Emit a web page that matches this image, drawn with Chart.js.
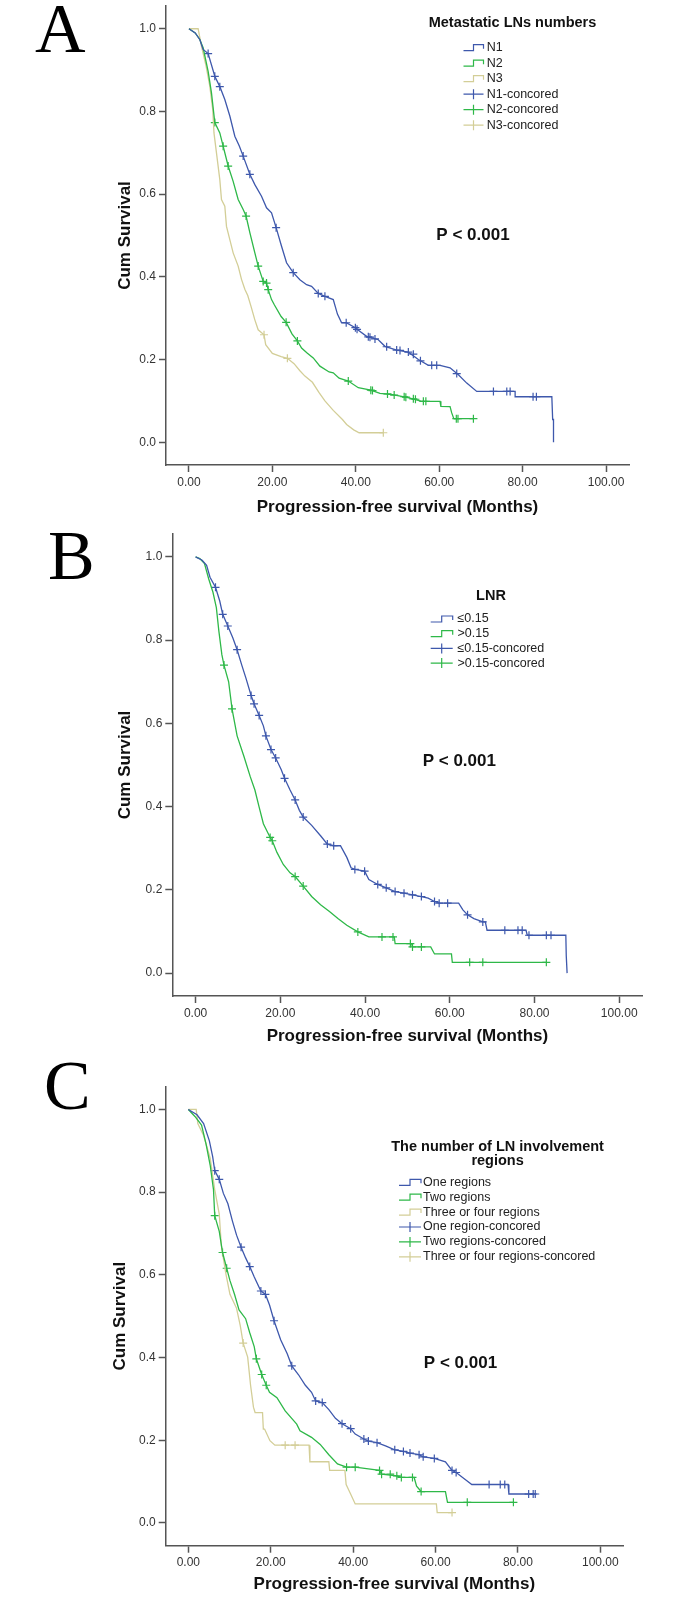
<!DOCTYPE html>
<html>
<head>
<meta charset="utf-8">
<script src="https://cdn.jsdelivr.net/npm/chart.js@4.4.1/dist/chart.umd.min.js"></script>
<style>
  html, body { margin: 0; padding: 0; background: #fff; }
  #page { position: relative; width: 687px; height: 1599px; }
  canvas { position: absolute; left: 0; }
</style>
</head>
<body>
<div id="page">
  <canvas id="panelA" width="687" height="520" style="top:0;width:687px;height:520px"></canvas>
  <canvas id="panelB" width="687" height="530" style="top:520px;width:687px;height:530px"></canvas>
  <canvas id="panelC" width="687" height="549" style="top:1050px;width:687px;height:549px"></canvas>
</div>
<script>
// ---- axis ticks (shared by all three panels) ----
const xTickValues = [0, 20, 40, 60, 80, 100];
const yTickValues = [0, 0.2, 0.4, 0.6, 0.8, 1.0];

// ---- Panel A: metastatic LN numbers ----
const aLabels = ['N1', 'N2', 'N3'];
const aCensLabels = ['N1-concored', 'N2-concored', 'N3-concored'];

const aN1Time = [0, 1.5, 2.6, 3.4, 4.6, 6.2, 7.4, 8.6, 9.8, 11.0, 12.1, 13.0, 14.6, 15.8, 17.4, 18.6, 19.8, 20.9, 22.2, 23.4, 25.0, 26.6, 28.2, 29.4, 31.0, 32.6, 34.6, 35.6, 36.6, 37.7, 39.9, 40.3, 42.6, 45.4, 47.0, 49.8, 52.6, 55.0, 57.4, 60.2, 62.6, 64.6, 66.6, 69.0, 78.2, 78.2, 87.0, 87.2, 87.4, 87.4];
const aN1Surv = [1.0, 0.99, 0.974, 0.95, 0.94, 0.885, 0.86, 0.829, 0.789, 0.74, 0.716, 0.692, 0.648, 0.623, 0.595, 0.567, 0.555, 0.519, 0.474, 0.434, 0.41, 0.393, 0.381, 0.377, 0.36, 0.353, 0.345, 0.31, 0.289, 0.289, 0.277, 0.273, 0.256, 0.248, 0.232, 0.223, 0.218, 0.20, 0.186, 0.186, 0.18, 0.163, 0.143, 0.123, 0.123, 0.11, 0.11, 0.055, 0.055, 0.0];
const aN1CensTime = [4.6, 6.2, 7.4, 13.0, 14.6, 20.9, 25.0, 31.0, 32.6, 37.7, 39.9, 40.3, 43.0, 43.4, 44.6, 47.4, 49.8, 50.6, 52.6, 53.8, 55.5, 58.2, 59.4, 64.2, 73.0, 76.2, 77.0, 82.5, 83.3];
const aN1CensSurv = [0.94, 0.885, 0.86, 0.692, 0.648, 0.519, 0.41, 0.36, 0.353, 0.289, 0.277, 0.273, 0.255, 0.254, 0.25, 0.231, 0.223, 0.222, 0.218, 0.213, 0.197, 0.186, 0.186, 0.166, 0.123, 0.123, 0.123, 0.11, 0.11];

const aN2Time = [0, 1.5, 2.6, 3.4, 4.6, 5.4, 6.2, 7.4, 8.2, 9.4, 10.6, 11.8, 13.0, 13.7, 14.6, 15.8, 16.6, 17.8, 18.6, 19.0, 19.8, 20.5, 22.1, 23.3, 24.7, 26.0, 27.0, 28.4, 29.8, 31.4, 33.6, 34.6, 36.0, 38.2, 40.6, 43.6, 45.8, 48.8, 51.6, 53.0, 55.8, 60.2, 60.4, 62.6, 63.0, 63.5, 68.2];
const aN2Surv = [1.0, 0.99, 0.974, 0.954, 0.897, 0.845, 0.773, 0.748, 0.716, 0.668, 0.631, 0.587, 0.563, 0.547, 0.507, 0.458, 0.426, 0.389, 0.385, 0.369, 0.345, 0.332, 0.304, 0.29, 0.262, 0.245, 0.228, 0.215, 0.204, 0.184, 0.17, 0.168, 0.155, 0.148, 0.132, 0.126, 0.118, 0.115, 0.11, 0.107, 0.099, 0.099, 0.087, 0.086, 0.071, 0.057, 0.057];
const aN2CensTime = [6.2, 8.2, 9.4, 13.7, 16.6, 17.8, 18.6, 19.0, 23.3, 26.0, 38.2, 43.6, 44.0, 47.6, 49.2, 51.6, 52.0, 53.8, 54.3, 56.2, 56.8, 64.1, 64.5, 68.2];
const aN2CensSurv = [0.773, 0.716, 0.668, 0.547, 0.426, 0.389, 0.385, 0.369, 0.29, 0.245, 0.148, 0.126, 0.125, 0.117, 0.114, 0.11, 0.109, 0.105, 0.104, 0.099, 0.099, 0.057, 0.057, 0.057];

const aN3Time = [0, 2.2, 3.0, 4.1, 5.0, 5.7, 6.0, 6.6, 7.4, 7.8, 8.6, 9.0, 9.8, 10.6, 11.8, 12.6, 13.4, 14.1, 14.9, 15.8, 16.6, 18.0, 18.4, 20.0, 22.1, 23.6, 25.2, 26.6, 27.8, 29.6, 31.2, 32.6, 34.6, 36.8, 37.8, 39.5, 40.8, 46.6];
const aN3Surv = [1.0, 1.0, 0.958, 0.91, 0.861, 0.805, 0.748, 0.70, 0.635, 0.587, 0.571, 0.522, 0.49, 0.458, 0.426, 0.394, 0.37, 0.355, 0.328, 0.296, 0.272, 0.26, 0.236, 0.215, 0.207, 0.203, 0.19, 0.173, 0.16, 0.145, 0.12, 0.10, 0.077, 0.055, 0.043, 0.03, 0.023, 0.023];
const aN3CensTime = [18.0, 23.6, 46.6];
const aN3CensSurv = [0.26, 0.203, 0.023];

// ---- Panel B: LNR ----
const bLabels = ['\u22640.15', '>0.15'];
const bCensLabels = ['\u22640.15-concored', '>0.15-concored'];

const bLowTime = [0, 1.55, 2.6, 3.4, 4.7, 5.7, 6.4, 7.6, 8.8, 9.8, 10.9, 11.9, 13.1, 13.8, 15.0, 16.0, 16.6, 17.8, 18.9, 20.2, 21.0, 22.3, 23.5, 24.5, 25.4, 27.4, 29.5, 31.1, 32.6, 34.2, 35.7, 36.7, 37.6, 39.9, 40.9, 43.0, 45.0, 47.1, 49.2, 51.2, 53.3, 54.9, 56.4, 57.5, 62.1, 63.1, 64.2, 65.7, 67.8, 68.4, 68.8, 78.0, 78.3, 87.4, 87.5, 87.7];
const bLowSurv = [1.0, 0.992, 0.98, 0.951, 0.927, 0.894, 0.862, 0.834, 0.805, 0.777, 0.74, 0.708, 0.667, 0.647, 0.619, 0.594, 0.57, 0.537, 0.517, 0.489, 0.468, 0.44, 0.416, 0.391, 0.375, 0.355, 0.33, 0.31, 0.306, 0.306, 0.278, 0.253, 0.249, 0.245, 0.225, 0.213, 0.205, 0.196, 0.192, 0.188, 0.184, 0.18, 0.172, 0.168, 0.168, 0.152, 0.14, 0.131, 0.123, 0.123, 0.103, 0.103, 0.091, 0.091, 0.042, 0.0];
const bLowCensTime = [4.7, 6.4, 7.6, 9.8, 13.1, 13.8, 15.0, 16.6, 17.8, 18.9, 21.0, 23.5, 25.4, 31.1, 32.6, 37.6, 39.9, 43.0, 45.0, 47.1, 49.2, 51.2, 53.3, 56.4, 57.5, 59.5, 64.2, 67.8, 73.0, 76.1, 77.1, 78.7, 82.8, 83.9];
const bLowCensSurv = [0.927, 0.862, 0.834, 0.777, 0.667, 0.647, 0.619, 0.57, 0.537, 0.517, 0.468, 0.416, 0.375, 0.31, 0.306, 0.249, 0.245, 0.213, 0.205, 0.196, 0.192, 0.188, 0.184, 0.172, 0.168, 0.168, 0.14, 0.123, 0.103, 0.103, 0.103, 0.091, 0.091, 0.091];

const bHighTime = [0, 1.0, 2.1, 3.1, 4.1, 4.9, 5.5, 6.2, 6.7, 7.8, 8.6, 9.8, 11.4, 12.9, 14.0, 15.0, 16.0, 17.6, 18.1, 19.2, 20.7, 22.3, 23.5, 25.4, 27.4, 29.5, 31.6, 33.6, 35.7, 38.3, 40.9, 46.9, 47.1, 51.0, 51.2, 55.5, 56.4, 60.4, 60.6, 82.8];
const bHighSurv = [1.0, 0.996, 0.984, 0.947, 0.915, 0.878, 0.821, 0.765, 0.74, 0.70, 0.635, 0.57, 0.521, 0.472, 0.44, 0.399, 0.359, 0.326, 0.318, 0.29, 0.261, 0.241, 0.232, 0.209, 0.184, 0.164, 0.148, 0.131, 0.115, 0.099, 0.087, 0.087, 0.071, 0.071, 0.063, 0.063, 0.046, 0.046, 0.026, 0.026];
const bHighCensTime = [6.7, 8.6, 17.6, 18.1, 23.5, 25.4, 38.3, 44.0, 46.6, 50.7, 51.2, 53.3, 64.7, 67.8, 82.8];
const bHighCensSurv = [0.74, 0.635, 0.326, 0.318, 0.232, 0.209, 0.099, 0.087, 0.087, 0.071, 0.063, 0.063, 0.026, 0.026, 0.026];

// ---- Panel C: number of LN involvement regions ----
const cLabels = ['One regions', 'Two regions', 'Three or four regions'];
const cCensLabels = ['One region-concored', 'Two regions-concored', 'Three or four regions-concored'];

const cOneTime = [0, 2.1, 3.7, 5.1, 5.9, 6.4, 7.5, 8.5, 9.6, 10.7, 11.7, 12.8, 13.9, 14.9, 16.0, 17.6, 18.7, 19.7, 20.8, 22.4, 24.0, 25.1, 26.7, 28.4, 29.9, 30.9, 32.5, 34.1, 35.7, 37.3, 39.4, 40.5, 42.6, 43.7, 45.8, 48.0, 50.1, 52.2, 53.8, 56.0, 57.0, 59.7, 62.4, 64.0, 65.0, 67.2, 68.8, 77.6, 77.8, 84.2];
const cOneSurv = [1.0, 0.987, 0.966, 0.924, 0.886, 0.852, 0.831, 0.797, 0.772, 0.73, 0.696, 0.667, 0.641, 0.62, 0.595, 0.561, 0.553, 0.527, 0.489, 0.443, 0.409, 0.38, 0.359, 0.333, 0.316, 0.295, 0.291, 0.274, 0.253, 0.24, 0.228, 0.215, 0.203, 0.198, 0.194, 0.186, 0.177, 0.173, 0.169, 0.165, 0.16, 0.156, 0.148, 0.127, 0.122, 0.105, 0.093, 0.093, 0.07, 0.07];
const cOneCensTime = [6.4, 7.5, 12.8, 14.9, 17.6, 18.7, 20.8, 25.1, 30.9, 32.5, 37.3, 39.4, 42.6, 43.7, 45.8, 50.1, 52.2, 53.8, 56.0, 57.0, 59.7, 64.0, 65.0, 73.0, 75.7, 76.8, 82.6, 83.7, 84.2];
const cOneCensSurv = [0.852, 0.831, 0.667, 0.62, 0.561, 0.553, 0.489, 0.38, 0.295, 0.291, 0.24, 0.228, 0.203, 0.198, 0.194, 0.177, 0.173, 0.169, 0.165, 0.16, 0.156, 0.127, 0.122, 0.093, 0.093, 0.093, 0.07, 0.07, 0.07];

const cTwoTime = [0, 1.6, 3.2, 4.3, 5.3, 6.1, 6.4, 7.5, 8.3, 9.3, 10.1, 11.2, 12.3, 13.9, 14.9, 16.0, 16.5, 17.8, 18.9, 19.7, 21.5, 23.5, 26.3, 27.1, 29.9, 32.0, 34.1, 36.2, 38.4, 40.5, 43.7, 46.4, 46.9, 50.6, 51.7, 54.8, 55.4, 56.5, 62.4, 62.9, 78.9];
const cTwoSurv = [1.0, 0.983, 0.962, 0.916, 0.865, 0.806, 0.743, 0.705, 0.654, 0.616, 0.586, 0.553, 0.515, 0.494, 0.46, 0.426, 0.397, 0.359, 0.333, 0.316, 0.303, 0.271, 0.239, 0.223, 0.207, 0.19, 0.165, 0.143, 0.135, 0.135, 0.131, 0.127, 0.118, 0.114, 0.11, 0.11, 0.089, 0.076, 0.076, 0.05, 0.05];
const cTwoCensTime = [6.4, 8.3, 9.3, 16.5, 17.8, 18.9, 38.4, 40.5, 46.4, 46.9, 49.0, 50.6, 51.7, 54.4, 56.5, 67.7, 78.9];
const cTwoCensSurv = [0.743, 0.654, 0.616, 0.397, 0.359, 0.333, 0.135, 0.135, 0.127, 0.118, 0.118, 0.114, 0.11, 0.11, 0.076, 0.05, 0.05];

const cThreeTime = [0, 1.9, 2.3, 3.7, 5.3, 6.4, 7.5, 8.0, 9.1, 10.1, 11.7, 12.6, 13.3, 14.4, 15.1, 15.8, 16.2, 18.0, 18.2, 18.5, 19.8, 21.0, 29.3, 29.5, 34.1, 34.3, 38.0, 38.3, 39.3, 40.5, 60.2, 60.4, 64.0];
const cThreeSurv = [1.0, 1.0, 0.966, 0.937, 0.882, 0.806, 0.747, 0.671, 0.603, 0.553, 0.519, 0.477, 0.435, 0.401, 0.333, 0.28, 0.267, 0.267, 0.227, 0.227, 0.199, 0.188, 0.188, 0.148, 0.148, 0.127, 0.127, 0.093, 0.072, 0.046, 0.046, 0.025, 0.025];
const cThreeCensTime = [13.3, 23.5, 25.9, 64.0];
const cThreeCensSurv = [0.435, 0.188, 0.188, 0.025];

// ---- styling ----
const seriesColors = ['#3E58AC', '#2EB848', '#D3CE97'];
const sansFont = '"Liberation Sans", Arial, "DejaVu Sans", sans-serif';
const serifFont = '"Liberation Serif", "Times New Roman", serif';
const PAD_LEFT = 100;

function toPoints(times, surv) {
  return times.map((t, i) => ({ x: t, y: surv[i] }));
}

function kmDatasets(groups) {
  const lines = groups.map((g, i) => ({
    label: g.label,
    data: toPoints(g.time, g.surv),
    showLine: true,
    borderColor: seriesColors[i],
    backgroundColor: seriesColors[i],
    borderWidth: 1.3,
    pointRadius: 0,
    tension: 0,
    kind: 'line'
  }));
  const cens = groups.map((g, i) => ({
    label: g.censLabel,
    data: toPoints(g.censTime, g.censSurv),
    showLine: false,
    pointStyle: 'cross',
    pointRadius: 4,
    pointBorderWidth: 1.2,
    borderColor: seriesColors[i],
    backgroundColor: seriesColors[i],
    kind: 'cens'
  }));
  return lines.concat(cens);
}

// letter, p-value and SPSS-style legend drawn on top of each panel
const kmDecor = {
  id: 'kmDecor',
  afterDraw(chart, args, o) {
    const ctx = chart.ctx;
    ctx.save();
    ctx.fillStyle = '#000';
    ctx.font = '70px ' + serifFont;
    ctx.textAlign = 'left';
    ctx.textBaseline = 'alphabetic';
    ctx.fillText(o.letter, o.letterX, o.letterY);

    ctx.font = 'bold 17px ' + sansFont;
    ctx.textAlign = 'center';
    ctx.textBaseline = 'middle';
    ctx.fillStyle = '#111';
    ctx.fillText(o.pText, o.pX, o.pY);

    ctx.font = 'bold 14.5px ' + sansFont;
    o.titleLines.forEach((t, i) => ctx.fillText(t, o.titleX, o.titleY + i * 14));

    ctx.font = '12.5px ' + sansFont;
    ctx.textAlign = 'left';
    chart.data.datasets.forEach((ds, i) => {
      const y = o.itemY + i * o.itemStep;
      const x0 = o.symX, w = o.symW;
      ctx.strokeStyle = ds.borderColor;
      ctx.lineWidth = 1.2;
      ctx.beginPath();
      if (ds.kind === 'line') {
        ctx.moveTo(x0, y + 3);
        ctx.lineTo(x0 + w * 0.5, y + 3);
        ctx.lineTo(x0 + w * 0.5, y - 3);
        ctx.lineTo(x0 + w, y - 3);
        ctx.lineTo(x0 + w, y + 1);
      } else {
        ctx.moveTo(x0, y);
        ctx.lineTo(x0 + w, y);
        ctx.moveTo(x0 + w * 0.5, y - 5);
        ctx.lineTo(x0 + w * 0.5, y + 5);
      }
      ctx.stroke();
      ctx.fillStyle = '#222';
      ctx.fillText(ds.label, o.textX, y);
    });
    ctx.restore();
  }
};

function buildPanel(id, spec) {
  const canvas = document.getElementById(id);
  const H = canvas.height;
  return new Chart(canvas, {
    type: 'scatter',
    data: { datasets: spec.datasets },
    options: {
      responsive: false,
      animation: false,
      events: [],
      layout: { padding: { left: PAD_LEFT, right: 687 - spec.right, top: spec.top, bottom: 0 } },
      plugins: {
        legend: { display: false },
        tooltip: { enabled: false },
        kmDecor: spec.decor
      },
      scales: {
        x: {
          type: 'linear',
          min: -5.5,
          max: 105.5,
          afterBuildTicks: s => { s.ticks = xTickValues.map(v => ({ value: v })); },
          afterFit: s => { s.height = H - spec.bottom; s.paddingLeft = 0; s.paddingRight = 0; },
          ticks: {
            callback: v => Number(v).toFixed(2),
            color: '#333',
            font: { family: sansFont, size: 12 },
            padding: 3,
            maxRotation: 0,
            autoSkip: false
          },
          grid: { drawOnChartArea: false, drawTicks: true, tickLength: 7, tickColor: '#555', tickWidth: 1.5 },
          border: { display: true, color: '#555', width: 1.5 },
          title: {
            display: true,
            text: 'Progression-free survival (Months)',
            color: '#111',
            font: { family: sansFont, size: 17, weight: 'bold' },
            padding: { top: 0, bottom: H - 10.2 - spec.xTitleY }
          }
        },
        y: {
          type: 'linear',
          min: -0.055,
          max: 1.055,
          afterBuildTicks: s => { s.ticks = yTickValues.map(v => ({ value: v })); },
          afterFit: s => { s.width = spec.left - PAD_LEFT; s.paddingTop = 0; s.paddingBottom = 0; },
          ticks: {
            callback: v => Number(v).toFixed(1),
            color: '#333',
            font: { family: sansFont, size: 12 },
            padding: 3,
            autoSkip: false
          },
          grid: { drawOnChartArea: false, drawTicks: true, tickLength: 7, tickColor: '#555', tickWidth: 1.5 },
          border: { display: true, color: '#555', width: 1.5 },
          title: {
            display: true,
            text: 'Cum Survival',
            color: '#111',
            font: { family: sansFont, size: 17, weight: 'bold' },
            padding: { top: spec.yTitleX - PAD_LEFT - 10.2, bottom: 0 }
          }
        }
      }
    },
    plugins: [kmDecor]
  });
}

buildPanel('panelA', {
  left: 166, right: 629, top: 6, bottom: 465, xTitleY: 507, yTitleX: 125,
  datasets: kmDatasets([
    { label: aLabels[0], censLabel: aCensLabels[0], time: aN1Time, surv: aN1Surv, censTime: aN1CensTime, censSurv: aN1CensSurv },
    { label: aLabels[1], censLabel: aCensLabels[1], time: aN2Time, surv: aN2Surv, censTime: aN2CensTime, censSurv: aN2CensSurv },
    { label: aLabels[2], censLabel: aCensLabels[2], time: aN3Time, surv: aN3Surv, censTime: aN3CensTime, censSurv: aN3CensSurv }
  ]),
  decor: {
    letter: 'A', letterX: 35, letterY: 51.5,
    pText: 'P < 0.001', pX: 473, pY: 235,
    titleLines: ['Metastatic LNs numbers'], titleX: 512.5, titleY: 23.3,
    itemY: 47.7, itemStep: 15.5, symX: 463.5, symW: 20, textX: 486.8
  }
});

buildPanel('panelB', {
  left: 172.3, right: 642.5, top: 14, bottom: 476, xTitleY: 516.7, yTitleX: 125,
  datasets: kmDatasets([
    { label: bLabels[0], censLabel: bCensLabels[0], time: bLowTime, surv: bLowSurv, censTime: bLowCensTime, censSurv: bLowCensSurv },
    { label: bLabels[1], censLabel: bCensLabels[1], time: bHighTime, surv: bHighSurv, censTime: bHighCensTime, censSurv: bHighCensSurv }
  ]),
  decor: {
    letter: 'B', letterX: 48, letterY: 59,
    pText: 'P < 0.001', pX: 459.3, pY: 241.7,
    titleLines: ['LNR'], titleX: 491, titleY: 76.3,
    itemY: 99, itemStep: 14.7, symX: 430.7, symW: 22, textX: 457.5
  }
});

buildPanel('panelC', {
  left: 165.7, right: 623, top: 36.7, bottom: 495.7, xTitleY: 534.7, yTitleX: 120.6,
  datasets: kmDatasets([
    { label: cLabels[0], censLabel: cCensLabels[0], time: cOneTime, surv: cOneSurv, censTime: cOneCensTime, censSurv: cOneCensSurv },
    { label: cLabels[1], censLabel: cCensLabels[1], time: cTwoTime, surv: cTwoSurv, censTime: cTwoCensTime, censSurv: cTwoCensSurv },
    { label: cLabels[2], censLabel: cCensLabels[2], time: cThreeTime, surv: cThreeSurv, censTime: cThreeCensTime, censSurv: cThreeCensSurv }
  ]),
  decor: {
    letter: 'C', letterX: 44, letterY: 58.5,
    pText: 'P < 0.001', pX: 460.5, pY: 313.3,
    titleLines: ['The number of LN involvement', 'regions'], titleX: 497.6, titleY: 96.5,
    itemY: 132.3, itemStep: 14.9, symX: 399, symW: 22, textX: 423
  }
});
</script>
</body>
</html>
